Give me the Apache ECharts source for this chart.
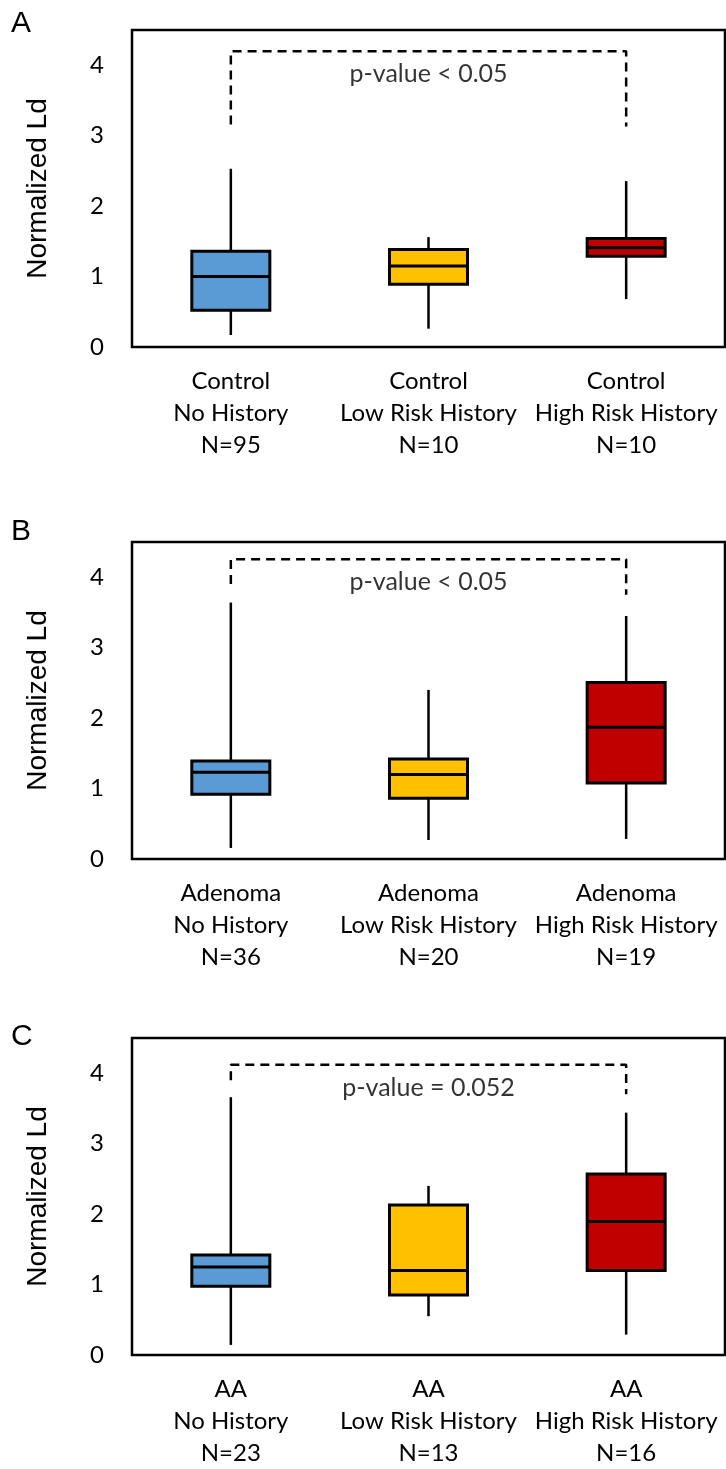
<!DOCTYPE html>
<html>
<head>
<meta charset="utf-8">
<script src="https://cdn.jsdelivr.net/npm/echarts@6/dist/echarts.min.js"></script>
<style>
  html, body { margin: 0; padding: 0; background: #fff; }
  #chart { width: 726px; height: 1469px; }
</style>
</head>
<body>
<div id="chart"></div>
<script>
// categories per panel
var catsA = ['Control\nNo History\nN=95', 'Control\nLow Risk History\nN=10', 'Control\nHigh Risk History\nN=10'];
var catsB = ['Adenoma\nNo History\nN=36', 'Adenoma\nLow Risk History\nN=20', 'Adenoma\nHigh Risk History\nN=19'];
var catsC = ['AA\nNo History\nN=23', 'AA\nLow Risk History\nN=13', 'AA\nHigh Risk History\nN=16'];

// [low, q1, median, q3, high] per category
var statsA = [[0.17, 0.52, 1.00, 1.36, 2.53], [0.26, 0.89, 1.15, 1.385, 1.56], [0.68, 1.29, 1.41, 1.54, 2.355]];
var statsB = [[0.157, 0.92, 1.23, 1.39, 3.64], [0.27, 0.864, 1.20, 1.42, 2.40], [0.285, 1.08, 1.87, 2.505, 3.45]];
var statsC = [[0.143, 0.976, 1.25, 1.42, 3.66], [0.55, 0.85, 1.20, 2.13, 2.40], [0.29, 1.20, 1.895, 2.57, 3.44]];

// significance bracket: [left leg end, top, right leg end], text and its height
var bracketA = [3.16, 4.2, 3.13];
var bracketB = [3.905, 4.256, 3.75];
var bracketC = [3.90, 4.12, 3.70];
var pTexts = ['p-value < 0.05', 'p-value < 0.05', 'p-value = 0.052'];
var pY = [3.88, 3.94, 3.79];

var yTicks = [0, 1, 2, 3, 4];
var letters = ['A', 'B', 'C'];
var colors = ['#5B9BD5', '#FFC000', '#C00000'];

var panels = [
  {cats: catsA, stats: statsA, bracket: bracketA, top: 30, letterTop: 4},
  {cats: catsB, stats: statsB, bracket: bracketB, top: 542, letterTop: 512},
  {cats: catsC, stats: statsC, bracket: bracketC, top: 1038, letterTop: 1017}
];

var labelFont = 'Lato';
var textColor = '#000';

function renderBox(params, api) {
  var x = api.value(0);
  var lo = api.coord([x, api.value(1)]);
  var q1 = api.coord([x, api.value(2)]);
  var med = api.coord([x, api.value(3)]);
  var q3 = api.coord([x, api.value(4)]);
  var hi = api.coord([x, api.value(5)]);
  var w = 78;
  var cx = q1[0];
  return {
    type: 'group',
    children: [
      {type: 'line', shape: {x1: cx, y1: lo[1], x2: cx, y2: hi[1]}, style: {stroke: '#000', lineWidth: 2.5}},
      {type: 'rect', shape: {x: cx - w / 2, y: q3[1], width: w, height: q1[1] - q3[1]},
        style: {fill: colors[x], stroke: '#000', lineWidth: 3}},
      {type: 'line', shape: {x1: cx - w / 2, y1: med[1], x2: cx + w / 2, y2: med[1]}, style: {stroke: '#000', lineWidth: 3}}
    ]
  };
}

var grids = [], xAxes = [], yAxes = [], series = [], titles = [];
panels.forEach(function (p, i) {
  grids.push({left: 132, right: 1, top: p.top, height: 317, show: true, borderColor: '#000', borderWidth: 2.5, backgroundColor: '#fff'});
  titles.push({text: letters[i], left: 6, top: p.letterTop,
    textStyle: {fontSize: 30, fontWeight: 'normal', fontFamily: 'Liberation Sans', color: textColor}});
  xAxes.push({
    type: 'category', gridIndex: i, data: p.cats,
    axisLine: {show: false}, axisTick: {show: false}, splitLine: {show: false},
    axisLabel: {interval: 0, margin: 18, fontSize: 24, lineHeight: 32, color: textColor, fontFamily: labelFont}
  });
  yAxes.push({
    type: 'value', gridIndex: i, min: 0, max: 4.5, interval: 1,
    axisLine: {show: false}, axisTick: {show: false}, splitLine: {show: false},
    axisLabel: {
      margin: 28, fontSize: 24, color: textColor, fontFamily: labelFont,
      formatter: function (v) { return yTicks.indexOf(v) >= 0 ? String(v) : ''; }
    },
    name: 'Normalized Ld', nameLocation: 'middle', nameGap: 80,
    nameTextStyle: {fontSize: 28, fontFamily: 'Liberation Sans', color: textColor}
  });
  series.push({
    type: 'custom', xAxisIndex: i, yAxisIndex: i,
    renderItem: renderBox,
    encode: {x: 0, y: [1, 2, 3, 4, 5]},
    data: p.stats.map(function (s, k) { return [k].concat(s); })
  });
  series.push({
    type: 'line', xAxisIndex: i, yAxisIndex: i, symbol: 'none', silent: true,
    lineStyle: {color: '#000', width: 2.5, type: [9, 6]},
    data: [[0, p.bracket[0]], [0, p.bracket[1]], [2, p.bracket[1]], [2, p.bracket[2]]]
  });
  series.push({
    type: 'scatter', xAxisIndex: i, yAxisIndex: i, symbolSize: 1, silent: true,
    itemStyle: {color: 'rgba(0,0,0,0)'},
    label: {show: true, position: 'inside', formatter: pTexts[i], fontSize: 25, fontFamily: labelFont, color: textColor},
    data: [[1, pY[i]]]
  });
});

var myChart = echarts.init(document.getElementById('chart'));
myChart.setOption({
  animation: false,
  title: titles,
  grid: grids,
  xAxis: xAxes,
  yAxis: yAxes,
  series: series
});
</script>
</body>
</html>
